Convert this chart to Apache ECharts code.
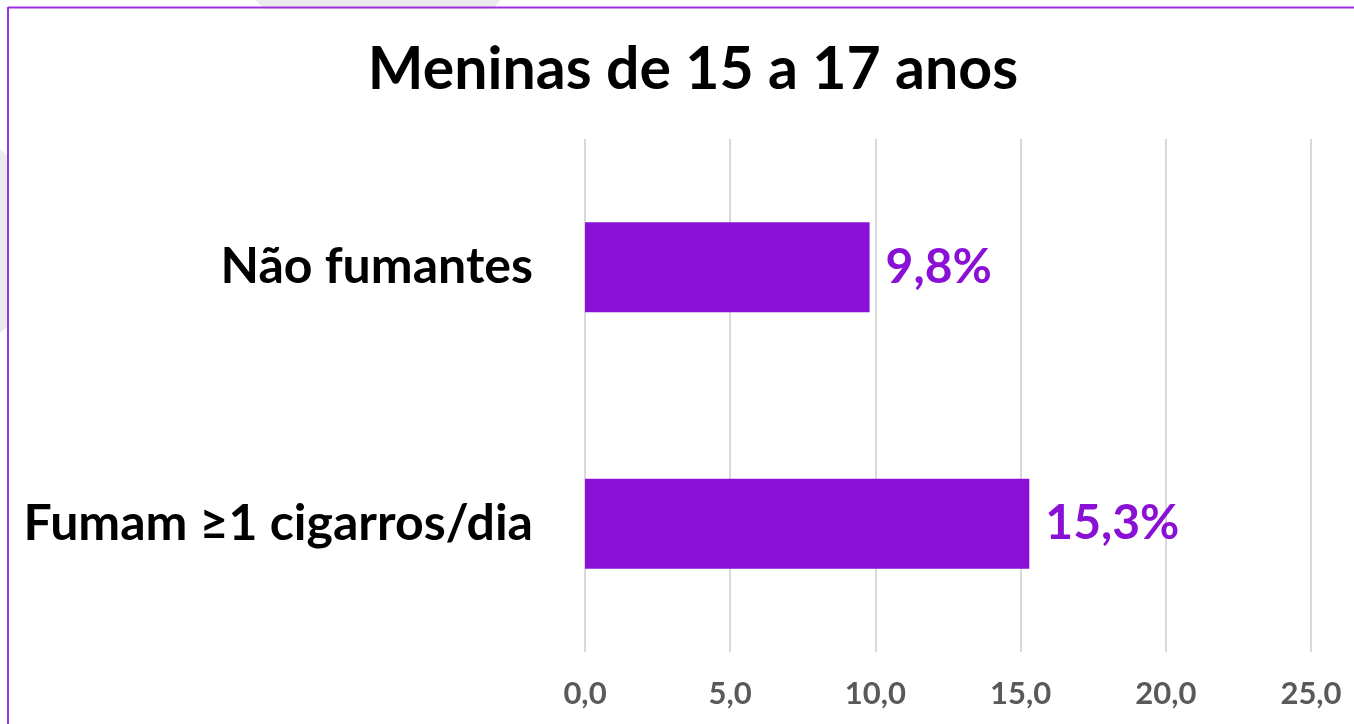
<!DOCTYPE html>
<html>
<head>
<meta charset="utf-8">
<style>
  html, body { margin: 0; padding: 0; background: #fff; }
  #chart { width: 1354px; height: 724px; }
</style>
<script src="https://cdn.jsdelivr.net/npm/echarts@6/dist/echarts.min.js"></script>
</head>
<body>
<div id="chart"></div>
<script>
const titleText = "Meninas de 15 a 17 anos";
const categories = ["Fumam ≥1 cigarros/dia", "Não fumantes"];
const values = [15.3, 9.8];
const axisMin = 0;
const axisMax = 25;
const axisStep = 5;

const purple = "#8b10d5";
const chart = echarts.init(document.getElementById("chart"));

const fmt = (v, d) => v.toFixed(d).replace(".", ",");

const option = {
  backgroundColor: "#fff",
  title: {
    text: titleText,
    left: 688,
    textAlign: "center",
    top: 35,
    textStyle: {
      fontFamily: "Lato",
      fontWeight: "bold",
      fontSize: 59,
      color: "#000",
    },
  },
  // decorative background shapes + purple frame
  graphic: [
    { type: "circle", z: -30, shape: { cx: 378, cy: -100, r: 158 }, style: { fill: "#ebebee" } },
    { type: "circle", z: -30, shape: { cx: -80, cy: 241, r: 122 }, style: { fill: "#ebebee" } },
    { type: "rect", z: -20, shape: { x: 9, y: 9, width: 1345, height: 715 }, style: { fill: "#fff" } },
    { type: "line", z: -10, shape: { x1: 8, y1: 7.5, x2: 1354, y2: 7.5 }, style: { stroke: "#9933e0", lineWidth: 2 } },
    { type: "line", z: -10, shape: { x1: 8, y1: 7, x2: 8, y2: 724 }, style: { stroke: "#9933e0", lineWidth: 2 } },
  ],
  grid: {
    left: 585,
    right: 43,
    top: 139,
    bottom: 72,
  },
  xAxis: {
    type: "value",
    min: axisMin,
    max: axisMax,
    interval: axisStep,
    axisLine: { show: false },
    axisTick: { show: false },
    splitLine: { show: true, lineStyle: { color: "#d9d9d9", width: 2 } },
    axisLabel: {
      margin: 26,
      formatter: (v) => fmt(v, 1),
      fontFamily: "Lato",
      fontWeight: "bold",
      fontSize: 31,
      color: "#595959",
    },
  },
  yAxis: {
    type: "category",
    data: categories,
    axisLine: { show: false },
    axisTick: { show: false },
    splitLine: { show: false },
    axisLabel: {
      margin: 52,
      fontFamily: "Lato",
      fontWeight: "bold",
      fontSize: 50,
      color: "#000",
    },
  },
  series: [
    {
      type: "bar",
      data: values,
      barWidth: 90,
      itemStyle: { color: purple },
      label: {
        show: true,
        position: "right",
        distance: 16,
        formatter: (p) => fmt(p.value, 1) + "%",
        fontFamily: "Lato",
        fontWeight: "bold",
        fontSize: 48,
        color: purple,
      },
    },
  ],
};

chart.setOption(option);
</script>
</body>
</html>
